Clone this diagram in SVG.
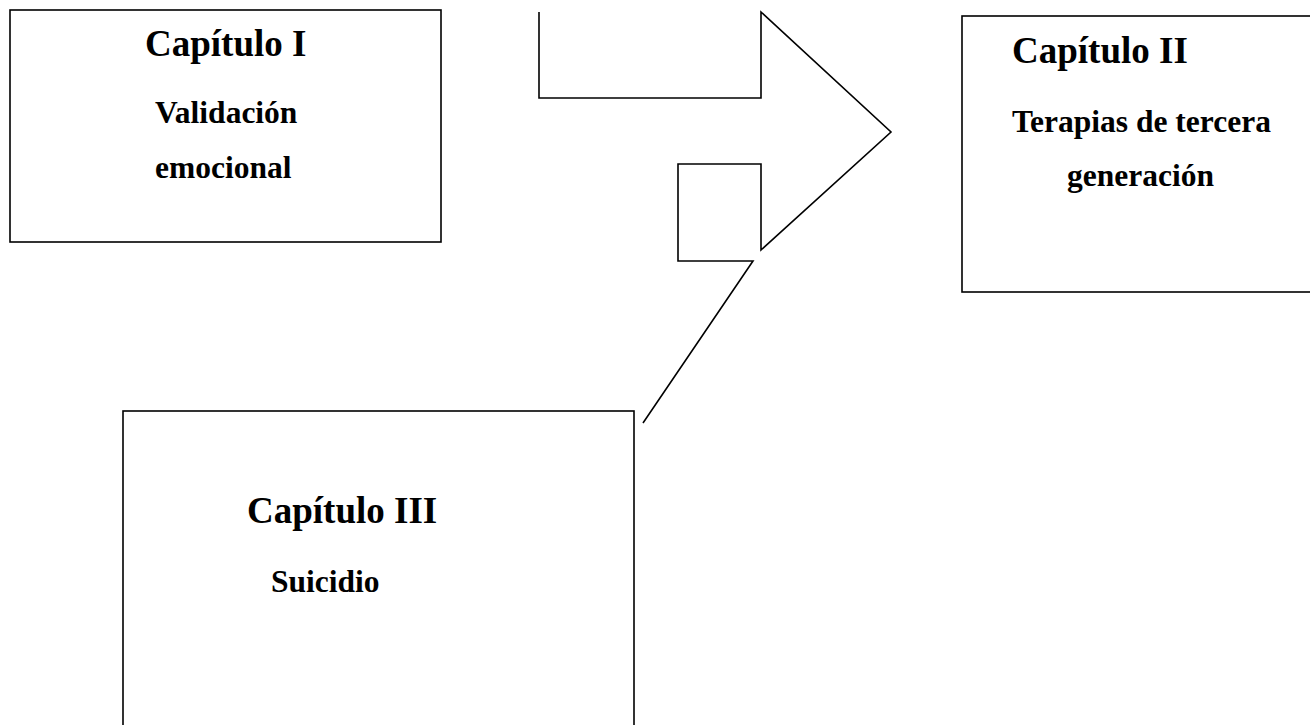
<svg xmlns="http://www.w3.org/2000/svg" width="1310" height="725" viewBox="0 0 1310 725">
  <style>
    .box { fill: #ffffff; stroke: #000000; stroke-width: 1.6; }
    .conn { fill: none; stroke: #000000; stroke-width: 1.6; stroke-linejoin: miter; }
    .title { font-family: "Liberation Serif", "Times New Roman", serif; font-weight: bold; font-size: 37px; fill: #000000; }
    .sub { font-family: "Liberation Serif", "Times New Roman", serif; font-weight: bold; font-size: 31.5px; fill: #000000; }
  </style>
  <rect width="1310" height="725" fill="#ffffff"/>

  <g id="connectors">
    <!-- block arrow outline, open on the left -->
    <polyline class="conn" points="539,12 539,98 761,98 761,12 891,132 761,250 761,164 678,164 678,261 753,261 643,423"/>
  </g>

  <g id="capitulo-1">
    <rect class="box" x="10" y="10" width="431" height="232"/>
    <text class="title" x="145" y="56">Capítulo I</text>
    <text class="sub" x="155" y="123">Validación</text>
    <text class="sub" x="155" y="178">emocional</text>
  </g>

  <g id="capitulo-2">
    <rect class="box" x="962" y="16" width="360" height="276"/>
    <text class="title" x="1012" y="63">Capítulo II</text>
    <text class="sub" x="1012" y="132">Terapias de tercera</text>
    <text class="sub" x="1067" y="186">generación</text>
  </g>

  <g id="capitulo-3">
    <rect class="box" x="123" y="411" width="511" height="330"/>
    <text class="title" x="247" y="523">Capítulo III</text>
    <text class="sub" x="271" y="592">Suicidio</text>
  </g>
</svg>
